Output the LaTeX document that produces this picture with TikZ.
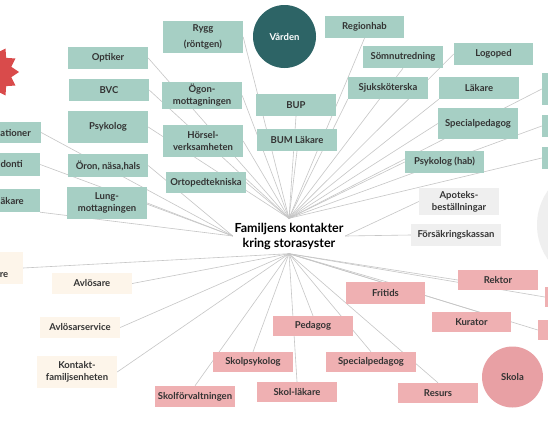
\documentclass[tikz,border=0pt]{standalone}
\usepackage{fontspec}
\setmainfont{Lato}
\usetikzlibrary{backgrounds}
\definecolor{gfill}{HTML}{A6CFC4}
\definecolor{pfill}{HTML}{EFB0B2}
\definecolor{bfill}{HTML}{FDF5EA}
\definecolor{grfill}{HTML}{EFEFEF}
\definecolor{dteal}{HTML}{2D6466}
\definecolor{skolac}{HTML}{E8A0A4}
\definecolor{starred}{HTML}{D94B4B}
\definecolor{linec}{HTML}{C6C6C6}
\definecolor{txt}{HTML}{333333}
\begin{document}
\begin{tikzpicture}[x=1pt,y=-1pt,
  box/.style={rectangle, inner sep=0pt, minimum width=80pt, minimum height=22pt, text=txt, font=\bfseries\fontsize{9.5}{12}\selectfont, align=center},
  gbox/.style={box, fill=gfill},
  pbox/.style={box, fill=pfill},
  bbox/.style={box, fill=bfill},
  grbox/.style={box, fill=grfill},
  lbl/.style={inner sep=0pt, text=txt, font=\bfseries\fontsize{9.5}{12}\selectfont},
  conn/.style={draw=linec, line width=0.6pt},
]
\useasboundingbox (0,0) rectangle (548,423);

% hub
\node[inner sep=0pt, minimum width=112pt, minimum height=35pt, align=center, font=\bfseries\fontsize{12.5}{15}\selectfont, text=black] (hub) at (289,236) {Familjens kontakter\\kring storasyster};

% circles and star
\node[circle, fill=dteal, minimum size=63pt, inner sep=0pt, text=white, font=\bfseries\fontsize{9.5}{12}\selectfont] (varden) at (284.5,36.5) {Vården};
\node[circle, fill=skolac, minimum size=61pt, inner sep=0pt, text=txt, font=\bfseries\fontsize{9.5}{12}\selectfont] (skola) at (512.5,377) {Skola};
\node[circle, fill=grfill, minimum size=120pt, inner sep=0pt] (grcirc) at (597,225) {};
\fill[starred] ({-8+27*cos(0)},{72+27*sin(0)}) \foreach \i in {1,...,23} {
  -- ({-8+(mod(\i,2)==0 ? 27 : 20)*cos(\i*15)},{72+(mod(\i,2)==0 ? 27 : 20)*sin(\i*15)})
} -- cycle;

% green boxes
\node[gbox, minimum height=32pt] (rygg) at (203,37) {Rygg\\[4pt](röntgen)};
\node[gbox] (optiker) at (108,58) {Optiker};
\node[gbox] (bvc) at (109,90) {BVC};
\node[gbox, minimum height=27pt] (ogon) at (202,95.5) {Ögon-\\mottagningen};
\node[gbox, minimum height=32pt] (psykolog) at (108,127) {Psykolog};
\node[gbox, minimum height=32pt] (horsel) at (203,141) {Hörsel-\\verksamheten};
\node[gbox, minimum height=23pt] (oron) at (108,165.5) {Öron, näsa,hals};
\node[gbox, minimum height=21pt] (ortoped) at (206,182.5) {Ortopedtekniska};
\node[gbox, minimum height=32pt] (lung) at (107,203) {Lung-\\mottagningen};
\node[gbox, minimum height=21pt] (org) at (1,132.5) {};
\node[lbl, anchor=east] (orgt) at (31,133) {ationer};
\node[gbox, minimum height=23pt] (orto) at (0,164.5) {};
\node[lbl, anchor=east] (ortot) at (23,164) {donti};
\node[gbox, minimum height=23pt] (tand) at (0,200.5) {};
\node[lbl, anchor=east] (tandt) at (24,201) {äkare};
\node[gbox] (bup) at (296,105) {BUP};
\node[gbox] (bum) at (297,140) {BUM Läkare};
\node[gbox, minimum width=79pt] (regionhab) at (364.5,27) {Regionhab};
\node[gbox] (somn) at (403,57) {Sömnutredning};
\node[gbox, minimum width=79pt] (logoped) at (493.5,54) {Logoped};
\node[gbox] (sjuk) at (388,88) {Sjuksköterska};
\node[gbox] (lakare) at (479,88) {Läkare};
\node[gbox, minimum height=31pt] (spec) at (478,123.5) {Specialpedagog};
\node[gbox, minimum width=79pt] (psyhab) at (444.5,162) {Psykolog (hab)};
\node[gbox, minimum height=32pt] (rA) at (582,89) {};
\node[gbox] (rB) at (582,126) {};
\node[gbox] (rC) at (582,158) {};

% grey boxes
\node[grbox, minimum height=27pt] (apotek) at (459,201.5) {Apoteks-\\beställningar};
\node[grbox, minimum width=90pt] (forsak) at (456,235) {Försäkringskassan};

% beige boxes
\node[bbox, minimum height=32pt] (rebox) at (-17,268) {};
\node[lbl, anchor=east] (ret) at (8.5,275) {re};
\node[bbox, minimum height=21pt] (avl) at (92,283.5) {Avlösare};
\node[bbox, minimum height=21pt] (avls) at (80,327.5) {Avlösarservice};
\node[bbox, minimum height=32pt] (kontakt) at (77,372) {Kontakt-\\familjsenheten};

% pink boxes
\node[pbox, minimum height=20pt] (rektor) at (498,280) {Rektor};
\node[pbox, minimum width=79pt] (fritids) at (385.5,293) {Fritids};
\node[pbox, minimum width=79pt, minimum height=20pt] (kurator) at (471.5,322) {Kurator};
\node[pbox, minimum height=20pt] (pedagog) at (313,326) {Pedagog};
\node[pbox, minimum width=90pt, minimum height=20pt] (specp) at (371,362) {Specialpedagog};
\node[pbox, minimum height=20pt] (skolpsyk) at (253,362) {Skolpsykolog};
\node[pbox, minimum height=20pt] (skollak) at (297,392) {Skol-läkare};
\node[pbox, minimum height=20pt] (resurs) at (438,393) {Resurs};
\node[pbox, minimum height=21pt] (skolforv) at (195,396.5) {Skolförvaltningen};
\node[pbox, minimum height=20pt] (pA) at (585,297) {};
\node[pbox, minimum height=20pt] (pB) at (578,330) {};

\begin{scope}[on background layer]
\fill[white] (0,0) rectangle (548,423);
\foreach \n in {rygg.east, optiker.east, bvc.east, psykolog.east, ogon.east, horsel.east, ortoped.east, bup.south, bum.south, regionhab.south, somn.south, logoped.west, sjuk.south west, lakare.south west, spec.west, psyhab.west, rA.west, rB.west, rC.west}
  \draw[conn] (\n) -- (hub.north);
\foreach \n in {oron.east, org.east, orto.east, tand.south east, lung.east}
  \draw[conn] (\n) -- (hub.west);
\foreach \n in {apotek.west, forsak.west}
  \draw[conn] (\n) -- (hub.east);
\foreach \n in {rebox.east, avl.east, avls.east, kontakt.east, skolforv.north, skolpsyk.north, skollak.north, pedagog.north, specp.north, resurs.north, fritids.east, kurator.east, rektor.west, pA.west, pB.west}
  \draw[conn] (\n) -- (hub.south);
\end{scope}
\end{tikzpicture}
\end{document}
